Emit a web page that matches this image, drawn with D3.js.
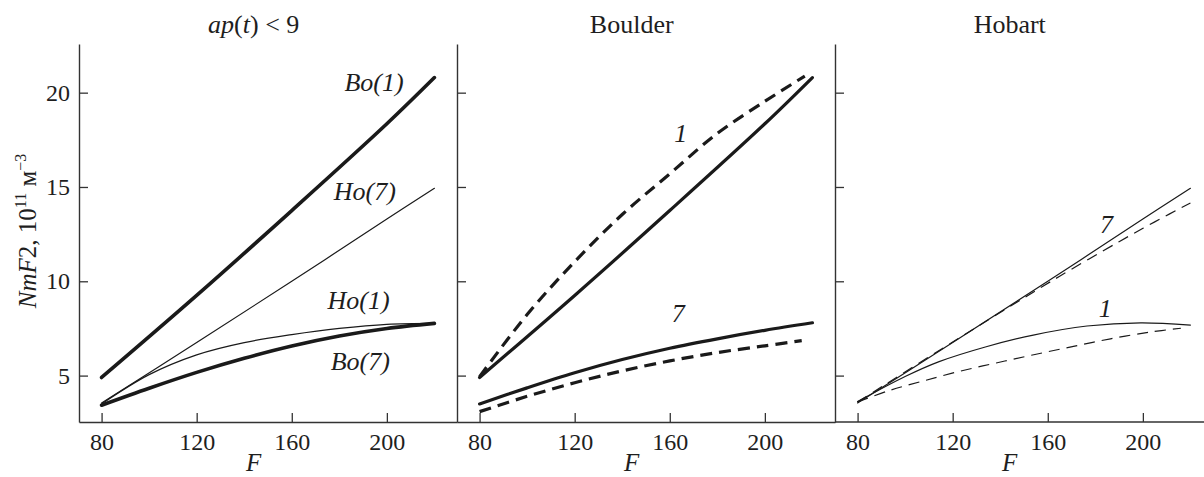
<!DOCTYPE html>
<html>
<head>
<meta charset="utf-8">
<script src="https://cdn.jsdelivr.net/npm/d3@7"></script>
<style>
  body { margin:0; background:#fff; }
  svg text { font-family:"Times New Roman","Liberation Serif","DejaVu Serif","Noto Serif",serif; fill:#1e1e1e; }
</style>
</head>
<body>
<div id="chart"></div>
<script>
// values
const xTicks = [80, 120, 160, 200]
const yTicks = [5, 10, 15, 20]
const panelTitles = ["ap(t) < 9", "Boulder", "Hobart"]

// panel 1: ap(t) < 9
const boF1   = [80, 120, 160, 200, 220]
const bo1    = [4.9, 9.25, 13.75, 18.35, 20.8]
const hoF7   = [80, 120, 160, 200, 220]
const ho7    = [3.55, 6.75, 10.0, 13.3, 14.93]
const hoF1   = [80, 100, 120, 140, 160, 180, 200, 220]
const ho1    = [3.5, 5.05, 6.1, 6.75, 7.17, 7.5, 7.72, 7.77]
const boF7   = [80, 100, 120, 140, 160, 180, 200, 220]
const bo7    = [3.43, 4.33, 5.17, 5.92, 6.57, 7.1, 7.5, 7.77]

// panel 2: Boulder, dashed = second model
const bdF1   = [80, 100, 120, 140, 160, 180, 200, 216.8]
const bd1    = [4.94, 8.24, 11.04, 13.54, 15.7, 17.84, 19.54, 20.88]
const bsF7   = [80, 100, 120, 140, 160, 180, 200, 220]
const bs7    = [3.5, 4.35, 5.15, 5.85, 6.45, 6.95, 7.4, 7.8]
const bdF7   = [80, 100, 120, 140, 160, 180, 200, 215.5]
const bd7    = [3.09, 3.9, 4.62, 5.25, 5.78, 6.22, 6.58, 6.85]

// panel 3: Hobart
const hdF7   = [80, 120, 150, 165, 190, 205, 220]
const hd7    = [3.6, 6.78, 9.12, 10.27, 12.1, 13.15, 14.15]
const hsF1   = [80, 100, 114.3, 134.1, 153.9, 176.5, 199.1, 220]
const hs1    = [3.62, 4.95, 5.74, 6.53, 7.15, 7.63, 7.8, 7.68]
const hdF1   = [80, 93.1, 106.6, 122, 138.3, 154.6, 170.8, 186.4, 202.6, 216]
const hd1    = [3.6, 4.2, 4.68, 5.2, 5.67, 6.12, 6.55, 6.95, 7.3, 7.51]

const zip = (xs, ys) => xs.map((x, i) => ({ F: x, v: ys[i] }))

const panels = [
  { title: panelTitles[0], series: [
      { d: zip(boF1, bo1), w: 3.6, dash: null },
      { d: zip(hoF7, ho7), w: 1.2, dash: null },
      { d: zip(hoF1, ho1), w: 1.2, dash: null },
      { d: zip(boF7, bo7), w: 3.6, dash: null } ],
    labels: [
      { t: ["Bo(", "1", ")"], F: 194.6, v: 20.1 },
      { t: ["Ho(", "7", ")"], F: 190.7, v: 14.3 },
      { t: ["Ho(", "1", ")"], F: 188.1, v: 8.53 },
      { t: ["Bo(", "7", ")"], F: 188.8, v: 5.3 } ] },
  { title: panelTitles[1], series: [
      { d: zip(boF1, bo1), w: 3.2, dash: null },
      { d: zip(bdF1, bd1), w: 3.2, dash: "12,7" },
      { d: zip(bsF7, bs7), w: 3.2, dash: null },
      { d: zip(bdF7, bd7), w: 3.2, dash: "12,7" } ],
    labels: [
      { t: ["", "1", ""], F: 164.6, v: 17.4 },
      { t: ["", "7", ""], F: 163.6, v: 7.86 } ] },
  { title: panelTitles[2], series: [
      { d: zip(hoF7, ho7), w: 1.2, dash: null },
      { d: zip(hdF7, hd7), w: 1.2, dash: "11,7" },
      { d: zip(hsF1, hs1), w: 1.2, dash: null },
      { d: zip(hdF1, hd1), w: 1.2, dash: "11,7" } ],
    labels: [
      { t: ["", "7", ""], F: 184.7, v: 12.56 },
      { t: ["", "1", ""], F: 184.2, v: 8.12 } ] }
]

let width = 1204, height = 477,
    marginTop = 44, plotH = 378, plotW = 378,
    lefts = [79, 457, 835]

let svg = d3.select("#chart").append("svg")
  .attr("width", width).attr("height", height)

let xScale = d3.scaleLinear().domain([70.5, 229.5]).range([0, plotW])
let yScale = d3.scaleLinear().domain([2.54, 22.58]).range([plotH, 0])

let line = d3.line()
  .x(d => xScale(d.F))
  .y(d => yScale(d.v))
  .curve(d3.curveCatmullRom.alpha(0.5))

panels.forEach((p, i) => {
  let g = svg.append("g").attr("transform", `translate(${lefts[i]},${marginTop})`)

  let xAxis = d3.axisBottom(xScale).tickValues(xTicks).tickSizeInner(-9).tickSizeOuter(0).tickPadding(11)
  let yAxis = d3.axisLeft(yScale).tickValues(yTicks).tickSizeInner(-9).tickSizeOuter(0).tickPadding(9)
  if (i > 0) yAxis.tickFormat("")

  let xg = g.append("g").attr("transform", `translate(0,${plotH})`).call(xAxis)
  let yg = g.append("g").call(yAxis)
  ;[xg, yg].forEach(a => {
    a.attr("font-family", null)
    a.selectAll(".domain").attr("stroke", "#333").attr("stroke-width", 1.4)
    a.selectAll(".tick line").attr("stroke", "#333").attr("stroke-width", 1.3)
    a.selectAll("text").attr("font-size", 24).attr("fill", "#1e1e1e")
  })
  if (i == 2) xg.select(".domain").attr("d", `M0,0H${width - lefts[2]}`)

  p.series.forEach(s => {
    g.append("path")
      .attr("d", line(s.d))
      .attr("fill", "none")
      .attr("stroke", "#1a1a1a")
      .attr("stroke-width", s.w)
      .attr("stroke-dasharray", s.dash)
      .attr("stroke-linecap", s.dash ? "butt" : "round")
  })

  p.labels.forEach(l => {
    let t = g.append("text")
      .attr("x", xScale(l.F)).attr("y", yScale(l.v))
      .attr("text-anchor", "middle")
      .attr("font-size", 26).attr("font-style", "italic")
    t.append("tspan").text(l.t[0])
    t.append("tspan").text(l.t[1])
    t.append("tspan").text(l.t[2])
  })

  // panel title
  if (i == 0) {
    let t = g.append("text").attr("x", xScale(144)).attr("y", 33 - marginTop)
      .attr("text-anchor", "middle").attr("font-size", 26)
    t.append("tspan").attr("font-style", "italic").text("ap")
    t.append("tspan").text("(")
    t.append("tspan").attr("font-style", "italic").text("t")
    t.append("tspan").text(") < 9")
  } else {
    g.append("text").attr("x", xScale(144)).attr("y", 33 - marginTop)
      .attr("text-anchor", "middle").attr("font-size", 26).text(p.title)
  }

  g.append("text").attr("x", xScale(144)).attr("y", 471 - marginTop)
    .attr("text-anchor", "middle").attr("font-size", 25)
    .attr("font-style", "italic").text("F")
})

// y axis title
let yl = svg.append("text")
  .attr("transform", "translate(36,231) rotate(-90)")
  .attr("text-anchor", "middle").attr("font-size", 25)
yl.append("tspan").attr("font-style", "italic").text("NmF")
yl.append("tspan").text("2, 10")
yl.append("tspan").attr("font-size", 16).attr("dy", -10).text("11")
yl.append("tspan").attr("dy", 10).text(" м")
yl.append("tspan").attr("font-size", 16).attr("dy", -10).text("−3")
</script>
</body>
</html>
